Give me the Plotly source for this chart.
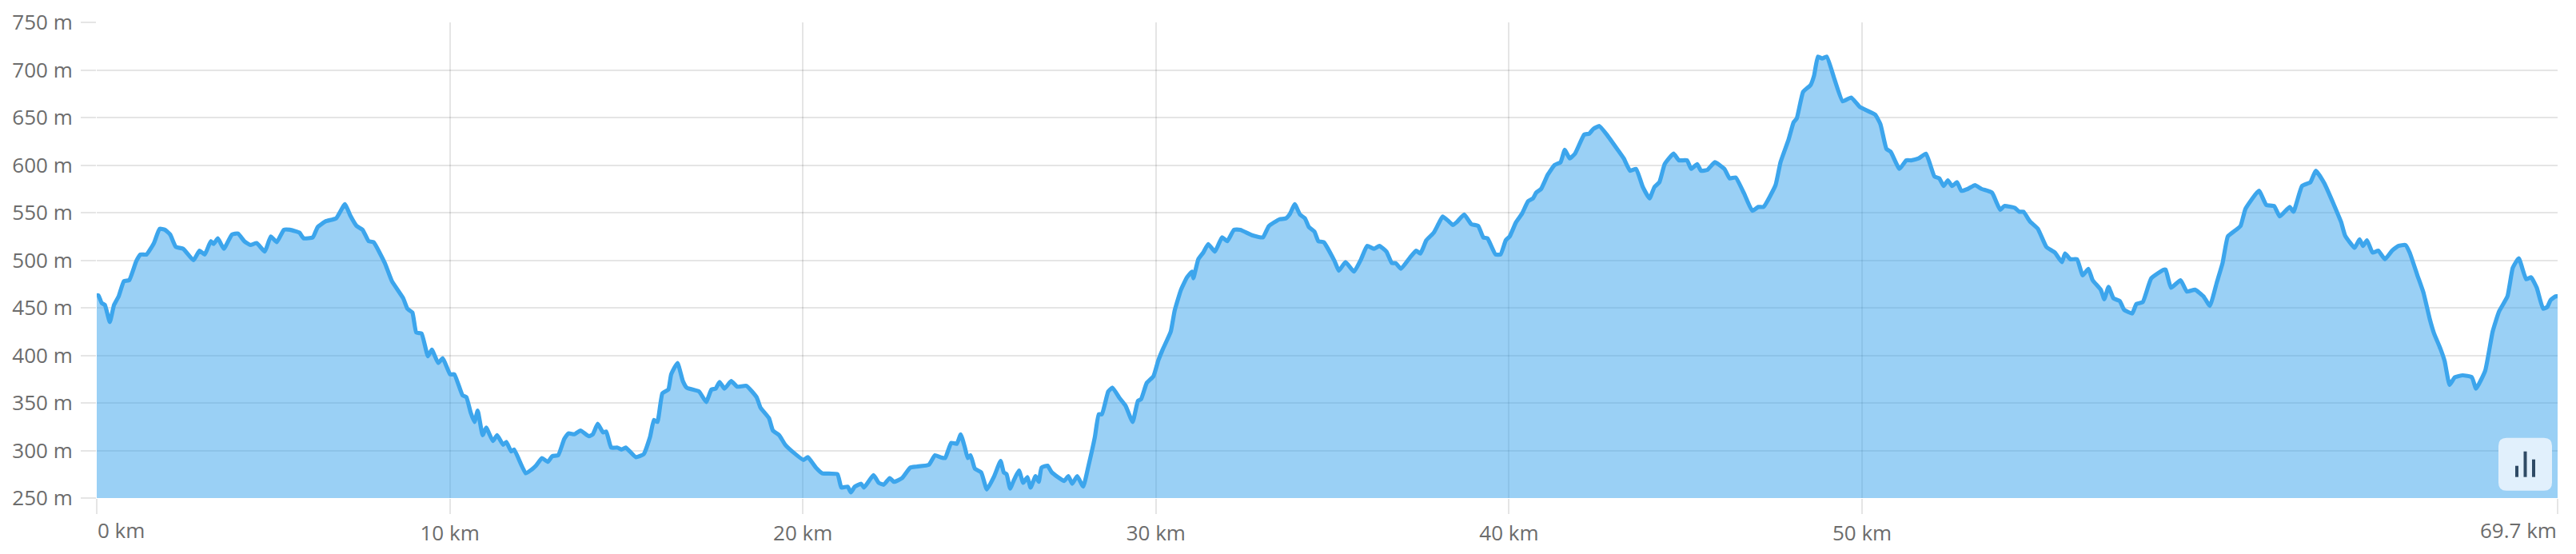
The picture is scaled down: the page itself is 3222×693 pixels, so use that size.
import plotly.graph_objects as go

distance_km = [0.05,0.14,0.23,0.37,0.49,0.62,0.77,0.92,1.12,1.24,1.41,1.62,1.78,1.93,2.08,2.24,2.45,2.74,2.91,3.06,3.23,3.31,3.43,3.6,3.83,4.0,4.18,4.35,4.53,4.76,4.93,5.1,5.3,5.47,5.74,5.86,6.12,6.26,6.49,6.78,7.03,7.18,7.36,7.53,7.7,7.84,8.16,8.36,8.68,8.8,8.94,9.05,9.2,9.38,9.49,9.67,9.8,10.01,10.13,10.36,10.47,10.59,10.7,10.79,10.93,11.03,11.22,11.34,11.51,11.6,11.74,11.82,12.15,12.32,12.44,12.61,12.78,12.9,13.07,13.24,13.36,13.53,13.7,13.94,14.05,14.19,14.34,14.43,14.57,14.75,14.86,14.98,15.1,15.27,
15.49,15.67,15.78,15.88,16.02,16.19,16.27,16.45,16.6,16.71,17.06,17.26,17.41,17.53,17.64,17.78,17.97,18.14,18.4,18.69,18.8,19.04,19.15,19.33,19.5,19.73,20.02,20.14,20.37,20.55,20.98,21.09,21.27,21.36,21.47,21.65,21.73,22.0,22.15,22.29,22.46,22.58,22.81,23.04,23.22,23.57,23.74,23.89,24.03,24.2,24.36,24.47,24.59,24.67,24.75,24.87,25.05,25.21,25.42,25.6,25.69,25.77,25.87,25.98,26.12,26.24,26.36,26.45,26.59,26.68,26.76,26.93,27.05,27.4,27.52,27.63,27.77,27.94,28.09,28.27,28.38,28.47,28.65,28.77,28.97,29.14,29.34,29.49,29.58,29.74,29.93,30.07,30.19,30.42,30.53,30.71,30.88,31.02,31.06,31.2,31.34,31.48,31.67,31.87,32.02,32.21,32.39,32.74,33.03,33.2,33.5,
33.68,33.8,33.93,34.08,34.22,34.33,34.49,34.6,34.75,35.06,35.18,35.37,35.61,35.81,35.98,36.18,36.33,36.53,36.68,36.79,36.94,37.2,37.37,37.49,37.66,37.87,38.0,38.12,38.29,38.41,38.52,38.73,38.93,39.13,39.27,39.39,39.62,39.76,39.91,40.02,40.2,40.37,40.54,40.68,40.77,40.91,41.1,41.29,41.46,41.58,41.72,41.87,42.13,42.27,42.39,42.56,42.79,43.08,43.25,43.43,43.6,43.79,43.98,44.12,44.26,44.41,44.66,44.81,45.04,45.16,45.33,45.44,45.62,45.83,46.1,46.25,46.42,46.66,46.89,47.06,47.21,47.55,47.69,47.92,48.06,48.15,48.33,48.54,48.64,48.75,48.87,49.0,49.22,49.45,49.69,49.94,50.37,50.52,50.69,50.81,51.06,51.25,51.39,51.6,
51.81,52.05,52.19,52.31,52.43,52.55,52.69,52.81,53.0,53.2,53.38,53.68,53.91,54.03,54.33,54.45,54.57,54.75,54.98,55.22,55.46,55.66,55.75,55.9,56.09,56.25,56.41,56.53,56.76,56.86,56.98,57.12,57.3,57.42,57.65,57.77,57.95,58.19,58.54,58.6,58.75,59.02,59.2,59.43,59.67,59.85,60.05,60.21,60.36,60.56,60.72,60.86,61.24,61.45,61.67,61.83,62.11,62.22,62.46,62.7,62.85,63.09,63.47,63.57,63.68,63.95,64.09,64.19,64.3,64.46,64.62,64.81,65.01,65.19,65.39,65.51,65.73,65.9,66.08,66.2,66.38,66.5,66.64,66.79,67.01,67.27,67.39,67.65,67.86,68.04,68.28,68.43,68.6,68.81,68.95,69.11,69.29,69.41,69.5,69.64]

elevation_m = [463,455,453,435,453,462,478,479,499,506,506,518,533,532,527,514,512,500,510,506,520,517,523,512,527,528,520,516,518,509,525,519,532,532,529,523,524,535,541,544,559,547,536,532,520,519,497,478,460,449,445,424,423,399,406,392,397,380,380,358,356,340,330,342,316,324,310,316,306,309,299,301,276,280,284,292,288,294,295,312,318,317,321,315,317,328,319,320,303,303,301,303,299,293,
296,314,332,330,360,364,380,392,373,366,362,351,364,365,372,365,373,367,368,356,345,334,321,316,306,298,290,293,282,276,275,261,262,256,262,265,261,274,266,264,271,267,271,282,283,285,295,293,292,308,307,317,303,292,295,281,277,259,273,289,277,275,260,269,279,266,272,261,273,267,282,284,277,268,273,265,273,262,284,314,338,338,362,366,355,347,330,352,354,371,378,395,406,425,447,469,482,488,481,501,508,517,509,524,520,532,532,526,524,536,543,
544,549,559,548,544,535,530,520,519,499,489,498,488,501,515,512,515,509,497,497,491,503,510,507,521,529,538,546,541,537,540,548,538,536,524,523,506,506,521,525,540,549,562,565,571,575,590,600,603,616,607,612,632,633,638,641,631,616,607,594,596,577,565,577,582,601,612,605,605,596,601,594,595,603,596,586,587,570,552,556,556,579,603,627,645,649,677,684,694,714,712,714,690,667,671,661,653,643,617,614,596,605,605,607,
612,588,586,578,584,578,582,573,575,579,575,571,553,557,555,551,551,541,533,514,508,498,507,501,501,484,491,479,469,459,472,460,457,448,444,454,456,481,490,490,471,479,467,469,462,452,477,497,525,531,536,554,573,558,557,546,556,551,578,582,594,581,549,540,526,513,522,515,521,508,510,501,510,515,516,508,484,466,438,423,407,394,369,377,379,377,365,384,425,446,462,492,502,480,482,471,449,451,458,462]

elevation_ticks = [250,300,350,400,450,500,550,600,650,700,750]
elevation_tick_labels = ["250 m","300 m","350 m","400 m","450 m","500 m","550 m","600 m","650 m","700 m","750 m"]
distance_ticks = [0,10,20,30,40,50,69.7]
distance_tick_labels = ["","10 km","20 km","30 km","40 km","50 km",""]

GRID = "rgba(0,0,0,0.1)"
TEXT = "#6c6c6c"
FONT = "Open Sans"
W, H = 3222, 693
L, R, T, B = 121, 23, 28.3, 69.7
pw, ph = W-L-R, H-T-B
fx = lambda px: (px-L)/pw
fy = lambda py: 1-(py-T)/ph

fig = go.Figure(go.Scatter(
    x=[0]+distance_km+[69.7], y=[463]+elevation_m+[462],
    mode="lines", fill="tozeroy", fillcolor="rgba(54,162,235,0.5)",
    line=dict(color="#3ca5ec", width=5.2, shape="spline", smoothing=0.4), hoverinfo="skip", showlegend=False))

shapes = [dict(type="path", xref="paper", yref="paper", layer="above", line_width=0,
               fillcolor="#e1f0fc",
               path=f"M {fx(3135)} {fy(548)} L {fx(3182)} {fy(548)} Q {fx(3192)} {fy(548)} {fx(3192)} {fy(558)} "
                    f"L {fx(3192)} {fy(604)} Q {fx(3192)} {fy(614)} {fx(3182)} {fy(614)} "
                    f"L {fx(3135)} {fy(614)} Q {fx(3125)} {fy(614)} {fx(3125)} {fy(604)} "
                    f"L {fx(3125)} {fy(558)} Q {fx(3125)} {fy(548)} {fx(3135)} {fy(548)} Z")]
for bx, top in [(3148,583),(3158.5,565),(3169,575)]:
    shapes.append(dict(type="line", xref="paper", yref="paper", layer="above",
                       x0=fx(bx), x1=fx(bx), y0=fy(top), y1=fy(597),
                       line=dict(color="#2f4b66", width=4)))

fig.update_layout(
    width=W, height=H, margin=dict(l=L, r=R, t=T, b=B, pad=0, autoexpand=False),
    paper_bgcolor="white", plot_bgcolor="white",
    font=dict(family=FONT, size=26, color=TEXT),
    shapes=shapes,
    annotations=[
        dict(x=0, y=0, xref="x", yref="paper", yshift=-60, xanchor="left", yanchor="bottom",
             text="0 km", showarrow=False, xshift=-1),
        dict(x=69.7, y=0, xref="x", yref="paper", yshift=-60, xanchor="right", yanchor="bottom",
             text="69.7 km", showarrow=False, xshift=1),
    ],
    xaxis=dict(range=[0,69.7], tickmode="array", tickvals=distance_ticks, ticktext=distance_tick_labels,
               showgrid=True, gridcolor=GRID, gridwidth=2, zeroline=False, showline=False,
               ticks="outside", ticklen=19, tickwidth=2, tickcolor=GRID, ticklabelstandoff=2),
    yaxis=dict(range=[250,750], tickmode="array", tickvals=elevation_ticks, ticktext=elevation_tick_labels,
               showgrid=True, gridcolor=GRID, gridwidth=2, zeroline=False, showline=False,
               ticks="outside", ticklen=19, tickwidth=2, tickcolor=GRID, ticklabelstandoff=5),
)
fig.write_html("out.html", config=dict(displayModeBar=False),
               post_script="document.body.style.margin='0';document.documentElement.style.overflow='hidden';")
